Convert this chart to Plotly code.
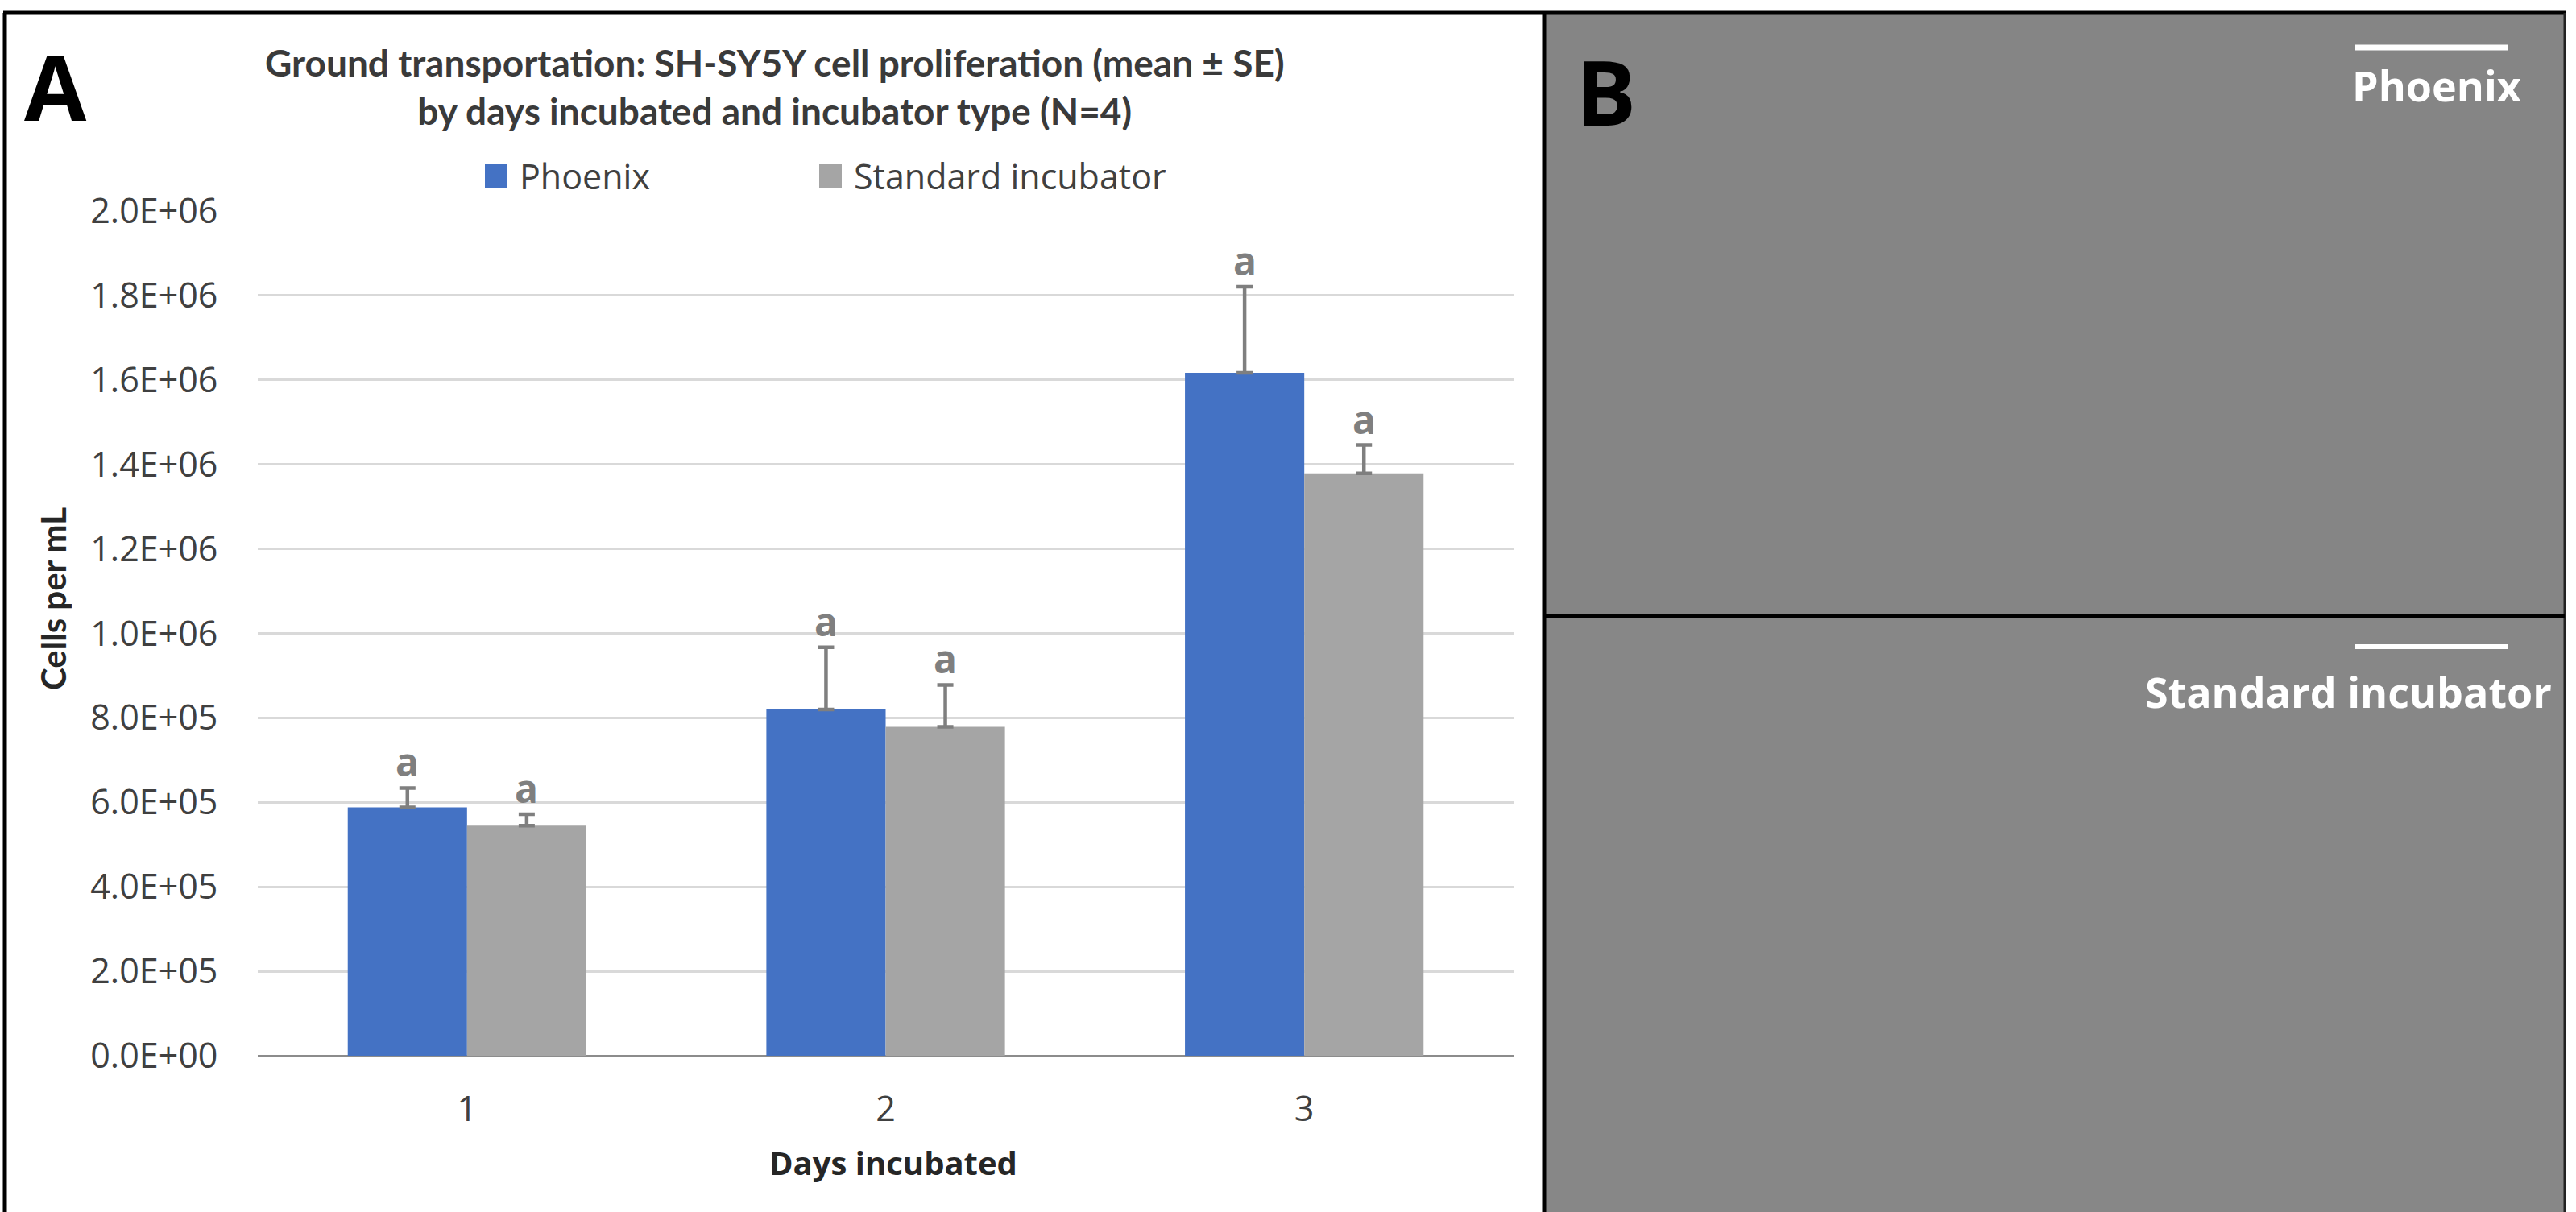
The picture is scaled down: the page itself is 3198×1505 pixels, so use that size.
import plotly.graph_objects as go

# ---------------- data ----------------
days = [1, 2, 3]
day_labels = ["1", "2", "3"]
series_names = ["Phoenix", "Standard incubator"]
phoenix_mean = [588000, 820000, 1617000]
phoenix_se = [46000, 147000, 204000]
standard_mean = [545000, 779000, 1379000]
standard_se = [27000, 99000, 67000]
letters_phoenix = ["a", "a", "a"]
letters_standard = ["a", "a", "a"]
y_tick_vals = [0, 200000, 400000, 600000, 800000, 1000000, 1200000, 1400000,
               1600000, 1800000, 2000000]
y_tick_text = ["0.0E+00", "2.0E+05", "4.0E+05", "6.0E+05", "8.0E+05", "1.0E+06",
               "1.2E+06", "1.4E+06", "1.6E+06", "1.8E+06", "2.0E+06"]
title_lines = ["Ground transportation: SH-SY5Y cell proliferation (mean ± SE)",
               "by days incubated and incubator type (N=4)"]
x_title = "Days incubated"
y_title = "Cells per mL"
panel_b_labels = ["Phoenix", "Standard incubator"]

# ---------------- geometry helpers ----------------
W, H = 3198, 1505
def px(x):
    return x / W
def py(y):
    return 1 - y / H

BLUE = "#4472C4"
GRAY = "#A5A5A5"
ERR = "#7F7F7F"
TXT = "#404040"
colors = [BLUE, GRAY]
bargap = 0.43

fig = go.Figure()
fig.add_trace(go.Bar(
    x=days, y=phoenix_mean, name=series_names[0], marker_color=BLUE,
    marker_line_width=0, showlegend=False,
    error_y=dict(type="data", array=phoenix_se, arrayminus=[0] * 3, symmetric=False,
                 color=ERR, thickness=4.5, width=10),
))
fig.add_trace(go.Bar(
    x=days, y=standard_mean, name=series_names[1], marker_color=GRAY,
    marker_line_width=0, showlegend=False,
    error_y=dict(type="data", array=standard_se, arrayminus=[0] * 3, symmetric=False,
                 color=ERR, thickness=4.5, width=10),
))

annotations = []
half = (1 - bargap) / 4.0
for i, d in enumerate(days):
    annotations.append(dict(x=d - half, y=phoenix_mean[i] + phoenix_se[i], xref="x", yref="y",
                            text=letters_phoenix[i], showarrow=False, yanchor="bottom",
                            yshift=-2,
                            font=dict(family="Open Sans", size=48, color=ERR, weight="bold")))
    annotations.append(dict(x=d + half, y=standard_mean[i] + standard_se[i], xref="x", yref="y",
                            text=letters_standard[i], showarrow=False, yanchor="bottom",
                            yshift=-2,
                            font=dict(family="Open Sans", size=48, color=ERR, weight="bold")))

# chart title
annotations.append(dict(x=px(962), y=py(108), xref="paper", yref="paper",
                        text="<br>".join(title_lines), showarrow=False,
                        xanchor="center", yanchor="middle", align="center",
                        font=dict(family="Lato", size=46, color="#3A3A3A", weight="bold")))
# axis titles
annotations.append(dict(x=px(1109), y=py(1443), xref="paper", yref="paper", text=x_title,
                        showarrow=False, xanchor="center", yanchor="middle",
                        font=dict(family="Open Sans", size=40, color="#262626", weight="bold")))
annotations.append(dict(x=px(66), y=py(744), xref="paper", yref="paper", text=y_title,
                        showarrow=False, xanchor="center", yanchor="middle", textangle=-90,
                        font=dict(family="Lato", size=42, color="#262626", weight="bold")))
# panel letters
annotations.append(dict(x=px(69), y=py(107), xref="paper", yref="paper", text="A",
                        showarrow=False, xanchor="center", yanchor="middle",
                        font=dict(family="Open Sans", size=112, color="black", weight="bold")))
annotations.append(dict(x=px(1993), y=py(112), xref="paper", yref="paper", text="B",
                        showarrow=False, xanchor="center", yanchor="middle",
                        font=dict(family="Open Sans", size=112, color="black", weight="bold")))
# panel B labels
annotations.append(dict(x=px(3132), y=py(106), xref="paper", yref="paper", text=panel_b_labels[0],
                        showarrow=False, xanchor="right", yanchor="middle",
                        font=dict(family="Open Sans", size=52, color="white", weight="bold")))
annotations.append(dict(x=px(3170), y=py(858), xref="paper", yref="paper", text=panel_b_labels[1],
                        showarrow=False, xanchor="right", yanchor="middle",
                        font=dict(family="Open Sans", size=52, color="white", weight="bold")))

# legend (swatches + labels)
legend_swatch_left = [602, 1017]
shapes = []
for name, col, x0 in zip(series_names, colors, legend_swatch_left):
    shapes.append(dict(type="rect", xref="paper", yref="paper", x0=px(x0), x1=px(x0 + 28),
                       y0=py(233), y1=py(204), fillcolor=col, line=dict(width=0)))
    annotations.append(dict(x=px(x0 + 41), y=py(218), xref="paper", yref="paper", text=name,
                            showarrow=False, xanchor="left", yanchor="middle",
                            font=dict(family="Open Sans", size=43, color=TXT)))

shapes += [
    # panel B images (placeholders for micrographs)
    dict(type="rect", xref="paper", yref="paper", x0=px(1917), x1=px(3184), y0=py(16), y1=py(765),
         fillcolor="#858585", line=dict(width=0), layer="below"),
    dict(type="rect", xref="paper", yref="paper", x0=px(1917), x1=px(3184), y0=py(765), y1=py(1505),
         fillcolor="#878787", line=dict(width=0), layer="below"),
    # frame lines
    dict(type="line", xref="paper", yref="paper", x0=px(4), x1=px(3186), y0=py(16), y1=py(16),
         line=dict(color="black", width=5)),
    dict(type="line", xref="paper", yref="paper", x0=px(6), x1=px(6), y0=py(16), y1=py(1505),
         line=dict(color="black", width=5)),
    dict(type="line", xref="paper", yref="paper", x0=px(1917), x1=px(1917), y0=py(16), y1=py(1505),
         line=dict(color="black", width=5)),
    dict(type="line", xref="paper", yref="paper", x0=px(3184), x1=px(3184), y0=py(16), y1=py(1505),
         line=dict(color="#222222", width=3)),
    dict(type="line", xref="paper", yref="paper", x0=px(1917), x1=px(3184), y0=py(765), y1=py(765),
         line=dict(color="black", width=5)),
    # scale bars
    dict(type="line", xref="paper", yref="paper", x0=px(2924), x1=px(3114), y0=py(59), y1=py(59),
         line=dict(color="white", width=7)),
    dict(type="line", xref="paper", yref="paper", x0=px(2924), x1=px(3114), y0=py(803), y1=py(803),
         line=dict(color="white", width=6)),
]

fig.update_layout(
    template="none",
    width=W, height=H,
    margin=dict(l=0, r=0, t=0, b=0, pad=0, autoexpand=False),
    paper_bgcolor="white", plot_bgcolor="white",
    barmode="group", bargap=bargap, bargroupgap=0,
    showlegend=False,
    annotations=annotations,
    shapes=shapes,
    xaxis=dict(domain=[px(320), px(1879)], range=[0.5, 3.5], tickmode="array",
               tickvals=days, ticktext=day_labels, showgrid=False, zeroline=False,
               showline=False, ticks="outside", ticklen=28, tickcolor="rgba(0,0,0,0)",
               automargin=False,
               tickfont=dict(family="Open Sans", size=43, color=TXT), fixedrange=True),
    yaxis=dict(domain=[py(1311), py(262)], range=[0, 2000000], tickmode="array",
               tickvals=y_tick_vals, ticktext=y_tick_text, showgrid=True,
               gridcolor="#D9D9D9", gridwidth=3, zeroline=True, zerolinecolor="#8C8C8C",
               zerolinewidth=3, showline=False, ticks="outside", ticklen=40,
               tickcolor="rgba(0,0,0,0)", automargin=False,
               tickfont=dict(family="Open Sans", size=43, color=TXT), fixedrange=True),
)

fig.write_html("out.html",
               config={"displayModeBar": False},
               post_script="document.body.style.margin='0px';document.body.style.overflow='hidden';")
